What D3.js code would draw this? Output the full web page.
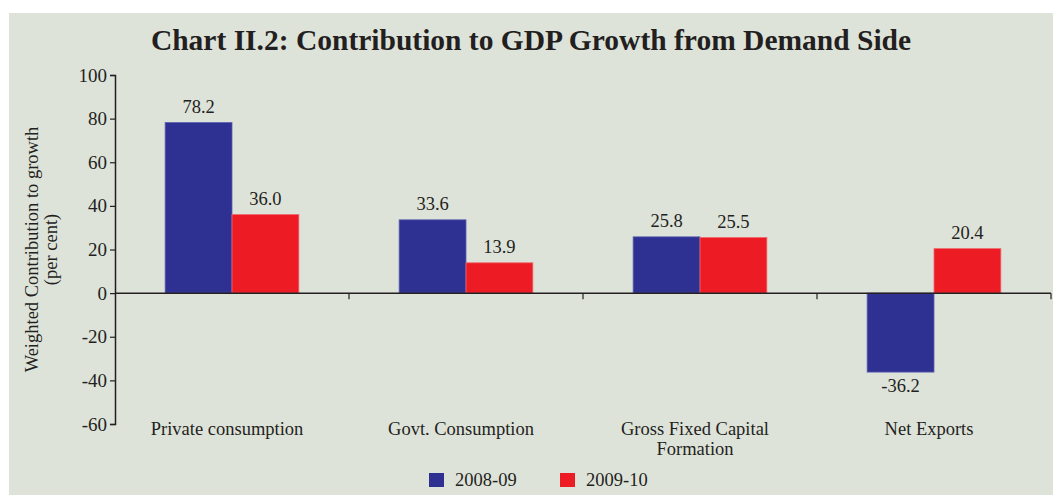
<!DOCTYPE html>
<html>
<head>
<meta charset="utf-8">
<script src="https://cdn.jsdelivr.net/npm/d3@7"></script>
<style>
  body { margin: 0; background: #fff; }
  text { font-family: "Liberation Serif", "Times New Roman", serif; fill: #231f20; }
</style>
</head>
<body>
<svg id="chart"></svg>
<script>
// data
const categories = ["Private consumption", "Govt. Consumption", "Gross Fixed Capital Formation", "Net Exports"];
const categoryLines = [["Private consumption"], ["Govt. Consumption"], ["Gross Fixed Capital", "Formation"], ["Net Exports"]];
const seriesNames = ["2008-09", "2009-10"];
const values2008 = [78.2, 33.6, 25.8, -36.2];
const values2009 = [36.0, 13.9, 25.5, 20.4];
const yTicks = [100, 80, 60, 40, 20, 0, -20, -40, -60];

const width = 1053, height = 495;
const colors = ["#2e3192", "#ed1c24"];

const svg = d3.select("#chart").attr("width", width).attr("height", height);

// panel background
svg.append("rect")
    .attr("x", 9).attr("y", 13)
    .attr("width", width - 9).attr("height", height - 13)
    .attr("fill", "#dee3da");

svg.append("text")
    .attr("x", 531).attr("y", 50)
    .attr("text-anchor", "middle")
    .style("font-size", "29.5px")
    .style("font-weight", "bold")
    .text("Chart II.2: Contribution to GDP Growth from Demand Side");

const margin = { left: 115, right: 2, top: 75, bottom: 71 };
const x0 = d3.scaleBand().domain(categories).range([margin.left, width - margin.right]).paddingInner(0).paddingOuter(0);
const x1 = d3.scaleBand().domain(seriesNames).range([0, x0.bandwidth()]).paddingInner(0).paddingOuter(0.75);
const y = d3.scaleLinear().domain([-60, 100]).range([height - margin.bottom, margin.top]);

const rows = categories.map((c, i) => ({ cat: c, vals: [values2008[i], values2009[i]] }));

const g = svg.append("g");
const groups = g.selectAll(".grp").data(rows).enter().append("g")
    .attr("class", "grp")
    .attr("transform", d => `translate(${x0(d.cat)},0)`);

groups.selectAll("rect").data(d => d.vals.map((v, j) => ({ v: v, s: seriesNames[j], j: j })))
    .enter().append("rect")
    .attr("x", d => x1(d.s))
    .attr("width", x1.bandwidth())
    .attr("y", d => y(Math.max(0, d.v)))
    .attr("height", d => Math.abs(y(d.v) - y(0)))
    .attr("fill", d => colors[d.j])
    .attr("stroke", d => d.j === 0 ? "#5b5fae" : "#f0676b")
    .attr("stroke-width", 0.8);

groups.selectAll(".val").data(d => d.vals.map((v, j) => ({ v: v, s: seriesNames[j] })))
    .enter().append("text")
    .attr("class", "val")
    .attr("x", d => x1(d.s) + x1.bandwidth() / 2)
    .attr("y", d => d.v >= 0 ? y(d.v) - 10 : y(d.v) + 20)
    .attr("text-anchor", "middle")
    .style("font-size", "18.5px")
    .text(d => d.v.toFixed(1));

// y axis
const yAxis = svg.append("g")
    .attr("transform", `translate(${margin.left},0)`)
    .call(d3.axisLeft(y).tickValues(yTicks).tickSize(5).tickPadding(3));
yAxis.select(".domain").attr("stroke", "#231f20").attr("stroke-width", 1.5);
yAxis.selectAll(".tick line").attr("stroke", "#231f20").attr("stroke-width", 1.2);
yAxis.selectAll(".tick text")
    .style("font-size", "19px")
    .style("font-family", "Liberation Serif, serif")
    .attr("fill", "#231f20")
    .text(d => d);

// x axis at zero, ticks at category boundaries
const bounds = categories.map(c => x0(c) + x0.bandwidth());
const xAxis = svg.append("g");
xAxis.append("line")
    .attr("x1", margin.left).attr("x2", width - margin.right)
    .attr("y1", y(0)).attr("y2", y(0))
    .attr("stroke", "#231f20").attr("stroke-width", 1.5);
xAxis.selectAll(".xt").data(bounds).enter().append("line")
    .attr("x1", d => d).attr("x2", d => d)
    .attr("y1", y(0)).attr("y2", y(0) + 6)
    .attr("stroke", "#231f20").attr("stroke-width", 1.2);

// category labels
const catText = svg.selectAll(".cat").data(categoryLines).enter().append("text")
    .attr("class", "cat")
    .attr("text-anchor", "middle")
    .style("font-size", "18.5px")
    .attr("transform", (d, i) => `translate(${x0(categories[i]) + x0.bandwidth() / 2 - 5},435)`);
catText.selectAll("tspan").data(d => d).enter().append("tspan")
    .attr("x", 0)
    .attr("dy", (d, i) => i === 0 ? 0 : 20)
    .text(d => d);

// y axis title
const yTitle = svg.append("text")
    .attr("transform", `translate(38,${y(20)}) rotate(-90)`)
    .attr("text-anchor", "middle")
    .style("font-size", "18.5px");
yTitle.append("tspan").attr("x", 0).attr("dy", 0).text("Weighted Contribution to growth");
yTitle.append("tspan").attr("x", 0).attr("dy", 19).text("(per cent)");

// legend
const legend = svg.selectAll(".leg").data(seriesNames).enter().append("g")
    .attr("class", "leg")
    .attr("transform", (d, i) => `translate(${429 + i * 131},473)`);
legend.append("rect")
    .attr("width", 15).attr("height", 14)
    .attr("fill", (d, i) => colors[i]);
legend.append("text")
    .attr("x", 26).attr("y", 13)
    .style("font-size", "18.5px")
    .text(d => d);
</script>
</body>
</html>
